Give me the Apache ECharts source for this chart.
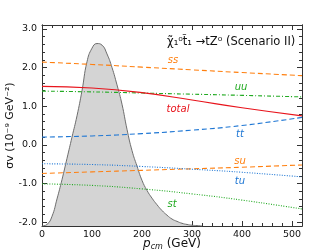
<!DOCTYPE html>
<html><head><meta charset="utf-8">
<script src="https://cdn.jsdelivr.net/npm/echarts@6/dist/echarts.min.js"></script>
<style>html,body{margin:0;padding:0;background:#fff}#c{width:336px;height:252px}</style>
</head><body><div id="c"></div>
<script>
// line series, sampled in p_cm (GeV)
const lineX = [0, 100, 200, 300, 400, 520];
const ss    = [2.14, 2.08, 2.01, 1.94, 1.87, 1.79];
const uu    = [1.39, 1.37, 1.34, 1.31, 1.28, 1.24];
const total = [1.51, 1.47, 1.35, 1.16, 0.96, 0.75];
const tt    = [0.20, 0.23, 0.29, 0.38, 0.50, 0.71];
const su    = [-0.74, -0.70, -0.66, -0.62, -0.58, -0.52];
const tu    = [-0.49, -0.51, -0.56, -0.63, -0.71, -0.83];
const st    = [-1.01, -1.05, -1.14, -1.27, -1.43, -1.66];
// shaded distribution
const distX = [0,10,20,30,40,50,60,70,80,90,100,110,120,130,140,150,160,170,180,190,200,210,220,230,240,250,260,270,280,290,300,310,320];
const distY = [-2.10,-2.06,-1.85,-1.40,-0.90,-0.35,0.20,0.75,1.40,2.15,2.50,2.62,2.58,2.35,2.00,1.55,1.05,0.40,-0.15,-0.55,-0.92,-1.18,-1.38,-1.55,-1.70,-1.82,-1.92,-1.98,-2.03,-2.06,-2.08,-2.09,-2.10];
// ticks
const yMajor = [-2, -1, 0, 1, 2, 3];
const yMinor = [];
for (let i = -10; i <= 15; i++) { if (i % 5 !== 0) yMinor.push(+(i * 0.2).toFixed(1)); }
const labels = ['ss', 'uu', 'total', 'tt', 'su', 'tu', 'st'];

const ORANGE = '#ff7f0e', GREEN = '#22aa22', RED = '#e8141c', BLUE = '#1f77d4';
const YMIN = -2.1, YMAX = 3.1;
const pairs = a => lineX.map((x, i) => [x, a[i]]);
const chart = echarts.init(document.getElementById('c'));
const axisCol = '#333';
function yAx(pos, vals, len, showLabel) {
  return {
    type: 'value', position: pos, min: YMIN, max: YMAX,
    axisLine: { show: true, onZero: false, lineStyle: { color: axisCol, width: 1 } },
    axisTick: { show: true, inside: true, length: len, customValues: vals, lineStyle: { color: axisCol } },
    axisLabel: showLabel ? { show: true, customValues: yMajor, formatter: v => v.toFixed(1), fontFamily: 'DejaVu Sans', fontSize: 9.5, color: '#111', margin: 5 } : { show: false },
    splitLine: { show: false }
  };
}
function lineS(name, data, color, type, width) {
  return { type: 'line', name, data: pairs(data), smooth: true, symbol: 'none', z: 5,
    lineStyle: { color, type, width: width || 1.1 } };
}
const opt = {
  animation: false,
  grid: { left: 42, right: 34, top: 25, bottom: 26, outerBoundsMode: 'none', containLabel: false },
  xAxis: [
    { type: 'value', min: 0, max: 520, interval: 100, position: 'bottom',
      axisLine: { show: true, onZero: false, lineStyle: { color: axisCol } },
      axisTick: { show: true, inside: true, length: 5, lineStyle: { color: axisCol } },
      minorTick: { show: true, splitNumber: 5, length: 3, lineStyle: { color: axisCol } },
      axisLabel: { fontFamily: 'DejaVu Sans', fontSize: 9.5, color: '#111', margin: 4, showMaxLabel: false },
      splitLine: { show: false },
      name: '{i|p}{s|cm} (GeV)', nameLocation: 'middle', nameGap: 11, nameMoveOverlap: false,
      nameTextStyle: { fontFamily: 'DejaVu Sans', fontSize: 12, color: '#111', verticalAlign: 'top',
        rich: { i: { fontFamily: 'DejaVu Sans', fontStyle: 'italic', fontSize: 12, color: '#111' },
                s: { fontFamily: 'DejaVu Sans', fontStyle: 'italic', fontSize: 8, color: '#111', padding: [6, 0, 0, 0] } } } },
    { type: 'value', min: 0, max: 520, interval: 100, position: 'top',
      axisLine: { show: true, onZero: false, lineStyle: { color: axisCol } },
      axisTick: { show: true, inside: true, length: 5, lineStyle: { color: axisCol } },
      minorTick: { show: true, splitNumber: 5, length: 3, lineStyle: { color: axisCol } },
      axisLabel: { show: false }, splitLine: { show: false } }
  ],
  yAxis: [
    Object.assign(yAx('left', yMajor, 5, true), {
      name: 'σv (10⁻⁹ GeV⁻²)', nameLocation: 'middle', nameGap: 26, nameRotate: 90, nameMoveOverlap: false,
      nameTextStyle: { fontFamily: 'DejaVu Sans', fontSize: 11, color: '#111' } }),
    yAx('left', yMinor, 3, false),
    yAx('right', yMajor, 5, false),
    yAx('right', yMinor, 3, false)
  ],
  series: [
    { type: 'line', data: distX.map((x, i) => [x, distY[i]]), smooth: true, symbol: 'none', z: 2,
      lineStyle: { color: '#6e6e6e', width: 1 }, areaStyle: { color: '#d4d4d4', opacity: 1, origin: 'start' } },
    lineS('ss', ss, ORANGE, [5, 3]),
    lineS('uu', uu, GREEN, [4, 2, 1, 2]),
    lineS('total', total, RED, 'solid', 1.2),
    lineS('tt', tt, BLUE, [5, 3]),
    lineS('su', su, ORANGE, [5, 3]),
    lineS('tu', tu, BLUE, [1, 1.5]),
    lineS('st', st, GREEN, [1, 1.5])
  ],
  graphic: [
    { type: 'text', left: 167, top: 36, z: 100, style: { text: 'χ̃₁⁰t̃₁ →tZ⁰ (Scenario II)', font: '11.5px "DejaVu Sans"', fill: '#111' } }
  ]
};
const labPos = { ss: [173, 60, ORANGE], uu: [241, 87, GREEN], total: [178, 109, RED], tt: [240, 134, BLUE], su: [240, 161, ORANGE], tu: [240, 181, BLUE], st: [172, 204, GREEN] };
labels.forEach(l => {
  const p = labPos[l];
  opt.graphic.push({ type: 'text', x: p[0], y: p[1], z: 100, style: { text: l, font: 'italic 10px "DejaVu Sans"', fill: p[2], align: 'center', verticalAlign: 'middle' } });
});
chart.setOption(opt);
</script></body></html>
